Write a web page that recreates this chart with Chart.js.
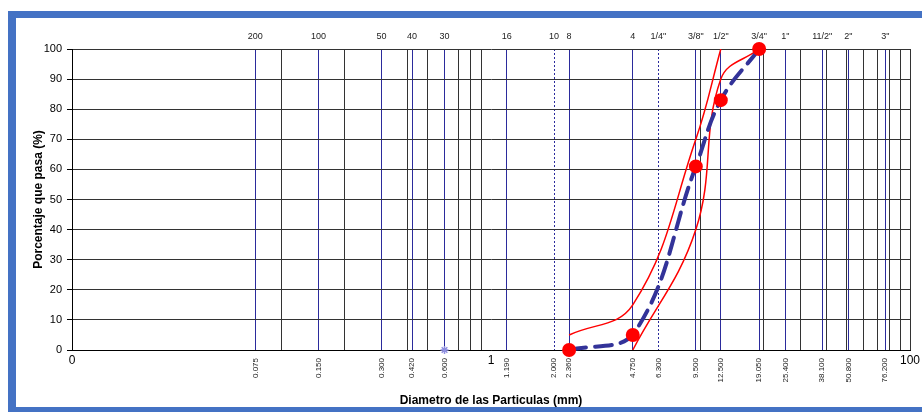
<!DOCTYPE html>
<html>
<head>
<meta charset="utf-8">
<script src="https://cdn.jsdelivr.net/npm/chart.js@4/dist/chart.umd.min.js"></script>
<style>
  html, body { margin: 0; padding: 0; background: #fff; overflow: hidden; }
  .frame {
    position: absolute; left: 8px; top: 11px; width: 1000px; height: 401px;
    box-sizing: border-box;
    border-left: 8px solid #4472c4; border-top: 7px solid #4472c4; border-bottom: 5px solid #4472c4;
  }
  #granulo { position: absolute; left: 0; top: 0; }
</style>
</head>
<body>
<div class="frame"></div>
<canvas id="granulo" width="922" height="412"></canvas>
<script>
  // sieve openings (mm) and their names
  const sieveSizes  = [0.075, 0.150, 0.300, 0.420, 0.600, 1.190, 2.000, 2.360, 4.750, 6.300, 9.500, 12.500, 19.050, 25.400, 38.100, 50.800, 76.200];
  const sieveNames  = ['200', '100', '50', '40', '30', '16', '10', '8', '4', '1/4"', '3/8"', '1/2"', '3/4"', '1"', '11/2"', '2"', '3"'];
  const sieveLabels = ['0.075', '0.150', '0.300', '0.420', '0.600', '1.190', '2.000', '2.360', '4.750', '6.300', '9.500', '12.500', '19.050', '25.400', '38.100', '50.800', '76.200'];
  const dashedSieves = [2.000, 6.300];

  // plain log grid lines
  const gridValues = [0.1, 0.2, 0.3, 0.4, 0.5, 0.7, 0.8, 0.9, 10, 20, 30, 40, 50, 60, 70, 80, 90, 100];
  const decadeTicks  = [0.01, 1, 100];
  const decadeLabels = ['0', '1', '100'];

  // gradation curve of the sample
  const sampleSize = [2.36, 4.75, 9.5, 12.5, 19.05];
  const samplePass = [0, 5, 61, 83, 100];

  // specification band
  const upperSize = [2.36, 4.75, 9.5, 12.5];
  const upperPass = [5, 15, 70, 100];
  const lowerSize = [4.75, 9.5, 12.5, 19.05];
  const lowerPass = [0, 40, 90, 100];

  const markSize = [0.6];
  const markPass = [0];

  const pts = (xs, ys) => xs.map((x, i) => ({ x: x, y: ys[i] }));

  Chart.defaults.font.family = '"Liberation Sans", Arial, sans-serif';
  Chart.defaults.color = '#000';

  const decadeLabelsPlugin = {
    id: 'decadeLabels',
    afterDraw(chart) {
      const sx = chart.scales.x;
      const ctx = chart.ctx;
      ctx.save();
      ctx.font = '12px "Liberation Sans", Arial, sans-serif';
      ctx.fillStyle = '#000';
      ctx.textAlign = 'center';
      ctx.textBaseline = 'middle';
      decadeTicks.forEach((v, i) => {
        ctx.fillText(decadeLabels[i], sx.getPixelForValue(v), sx.top + 11);
      });
      ctx.restore();
    }
  };

  new Chart(document.getElementById('granulo'), {
    type: 'line',
    data: {
      datasets: [
        {
          data: pts(sampleSize, samplePass),
          borderColor: '#333399', borderWidth: 4, borderDash: [17, 9], borderCapStyle: 'round',
          pointRadius: 5, pointBackgroundColor: '#ff0000', pointBorderColor: '#ff0000',
          tension: 0.4, clip: false, order: 0
        },
        {
          data: pts(upperSize, upperPass),
          borderColor: '#ff0000', borderWidth: 1.5, pointRadius: 0, tension: 0.4, order: 1
        },
        {
          data: pts(lowerSize, lowerPass),
          borderColor: '#ff0000', borderWidth: 1.5, pointRadius: 0, tension: 0.4, order: 1
        },
        {
          data: pts(markSize, markPass), showLine: false,
          pointStyle: 'star', pointRadius: 4, borderColor: '#8f8fe0', borderWidth: 1.5, clip: false, order: 2
        }
      ]
    },
    options: {
      responsive: false,
      animation: false,
      layout: { padding: { left: 0, right: 12, top: 0, bottom: 0 } },
      plugins: { legend: { display: false }, tooltip: { enabled: false } },
      scales: {
        x: {
          type: 'logarithmic', position: 'bottom', min: 0.01, max: 100,
          afterBuildTicks: s => {
            s.ticks = gridValues.map(v => ({ value: v })).concat(sieveSizes.map(v => ({ value: v })));
          },
          afterFit: s => { s.height = 62; },
          ticks: {
            autoSkip: false, minRotation: 90, maxRotation: 90, padding: 8,
            font: { size: 8 }, color: '#222',
            callback: (v, i) => i < gridValues.length ? '' : sieveLabels[i - gridValues.length]
          },
          grid: {
            drawTicks: false, lineWidth: 1,
            color: c => (c.index !== undefined && c.index >= gridValues.length) ? '#2b2b9c' : '#333'
          },
          border: {
            display: true, color: '#000',
            dash: c => (c.tick && c.index >= gridValues.length && dashedSieves.includes(c.tick.value)) ? [2, 2] : []
          },
          title: {
            display: true, text: 'Diametro de las Particulas (mm)',
            font: { size: 12, weight: 'bold' }, padding: { top: 0, bottom: 4 }
          }
        },
        xTop: {
          type: 'logarithmic', position: 'top', min: 0.01, max: 100,
          afterBuildTicks: s => { s.ticks = sieveSizes.map(v => ({ value: v })); },
          afterFit: s => { s.height = 49; },
          ticks: {
            autoSkip: false, maxRotation: 0, minRotation: 0, padding: 7,
            font: { size: 9 }, color: '#222',
            callback: (v, i) => sieveNames[i]
          },
          grid: { display: false, drawTicks: false },
          border: { display: false }
        },
        y: {
          min: 0, max: 100,
          afterFit: s => { s.width = 72; },
          ticks: { stepSize: 10, padding: 5, font: { size: 11 }, color: '#000' },
          grid: { color: '#333', lineWidth: 1, tickLength: 5, tickColor: '#000' },
          border: { display: true, color: '#000' },
          title: {
            display: true, text: 'Porcentaje que pasa (%)',
            font: { size: 12, weight: 'bold' }, padding: { top: 31, bottom: 0 }
          }
        }
      }
    },
    plugins: [decadeLabelsPlugin]
  });
</script>
</body>
</html>
